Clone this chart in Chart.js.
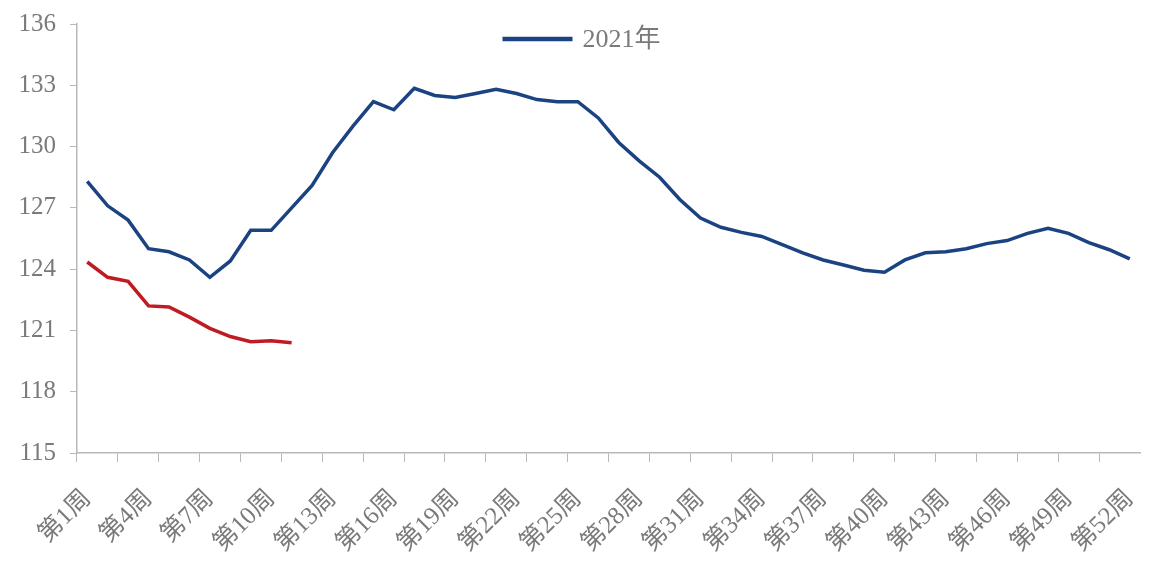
<!DOCTYPE html>
<html>
<head>
<meta charset="utf-8">
<script src="https://cdn.jsdelivr.net/npm/chart.js@4"></script>
<style>
  html, body { margin: 0; padding: 0; background: #fff; }
  #wrap { width: 1157px; height: 562px; }
</style>
</head>
<body>
<div id="wrap"><canvas id="myChart" width="1157" height="562"></canvas></div>
<script>
const weeks = [];
for (let i = 1; i <= 52; i++) weeks.push('第' + i + '周');

const seriesNames = ['2021年', '2022年'];

const values2021 = [
  128.3, 127.1, 126.4, 125.0, 124.85, 124.45, 123.6, 124.4, 125.9, 125.9,
  127.0, 128.1, 129.7, 131.0, 132.2, 131.8, 132.85, 132.5, 132.4, 132.6,
  132.8, 132.6, 132.3, 132.2, 132.2, 131.4, 130.2, 129.3, 128.5, 127.4,
  126.5, 126.05, 125.8, 125.6, 125.2, 124.8, 124.45, 124.2, 123.95, 123.85,
  124.45, 124.8, 124.85, 125.0, 125.25, 125.4, 125.75, 126.0, 125.75, 125.3,
  124.95, 124.5
];

const values2022 = [
  124.35, 123.6, 123.4, 122.2, 122.15, 121.65, 121.1, 120.7, 120.45, 120.5,
  120.4
];

const yMin = 115;
const yMax = 136;
const yStep = 3;

const blue = '#1b4382';
const red = '#c01b22';
const axisGray = '#b8b8b8';
const textGray = '#7a7a7a';
const serif = '"Liberation Serif", "Noto Sans CJK SC", serif';

// legend sits inside the plot, only the 2021 entry is shown
const topLegend = {
  id: 'topLegend',
  afterDraw(chart) {
    const c = chart.ctx;
    const ds = chart.data.datasets[0];
    const area = chart.chartArea;
    const cx = area.left + (area.right - area.left) / 2;
    const y = area.top + 15;
    c.save();
    c.strokeStyle = ds.borderColor;
    c.lineWidth = 4.5;
    c.beginPath();
    c.moveTo(cx - 106, y);
    c.lineTo(cx - 36, y);
    c.stroke();
    c.fillStyle = textGray;
    c.font = '26px ' + serif;
    c.textBaseline = 'middle';
    c.textAlign = 'left';
    c.fillText(ds.label, cx - 26, y + 1);
    c.restore();
  }
};

const ctx = document.getElementById('myChart');
const myChart = new Chart(ctx, {
  type: 'line',
  data: {
    labels: weeks,
    datasets: [{
      label: seriesNames[0],
      data: values2021,
      borderColor: blue,
      backgroundColor: blue,
      borderWidth: 3.5,
      pointRadius: 0,
      tension: 0
    }, {
      label: seriesNames[1],
      data: values2022,
      borderColor: red,
      backgroundColor: red,
      borderWidth: 3.5,
      pointRadius: 0,
      tension: 0
    }]
  },
  options: {
    responsive: false,
    animation: false,
    layout: {
      padding: { top: 24, right: 17, left: 0, bottom: 0 }
    },
    plugins: {
      tooltip: { enabled: false },
      legend: { display: false }
    },
    scales: {
      x: {
        offset: true,
        border: { color: axisGray, width: 1.5 },
        grid: {
          offset: true,
          drawOnChartArea: false,
          drawTicks: true,
          tickLength: 9,
          tickColor: (c) => (c.index % 2 === 0 ? axisGray : 'rgba(0,0,0,0)')
        },
        ticks: {
          autoSkip: false,
          minRotation: 45,
          maxRotation: 45,
          padding: 22,
          color: textGray,
          font: { family: serif, size: 25 },
          callback: function (val, idx) {
            return idx % 3 === 0 ? this.getLabelForValue(val) : '';
          }
        },
        afterFit: (scale) => {
          scale.height = 109;
          scale.paddingLeft = 0;
          scale.paddingRight = 0;
        }
      },
      y: {
        min: yMin,
        max: yMax,
        border: { color: axisGray, width: 1.5 },
        grid: {
          drawOnChartArea: false,
          drawTicks: true,
          tickLength: 7,
          color: axisGray
        },
        ticks: {
          stepSize: yStep,
          padding: 14,
          color: textGray,
          font: { family: serif, size: 25 }
        },
        afterFit: (scale) => {
          scale.width = 77;
          scale.paddingTop = 0;
          scale.paddingBottom = 0;
        }
      }
    }
  },
  plugins: [topLegend]
});
</script>
</body>
</html>
